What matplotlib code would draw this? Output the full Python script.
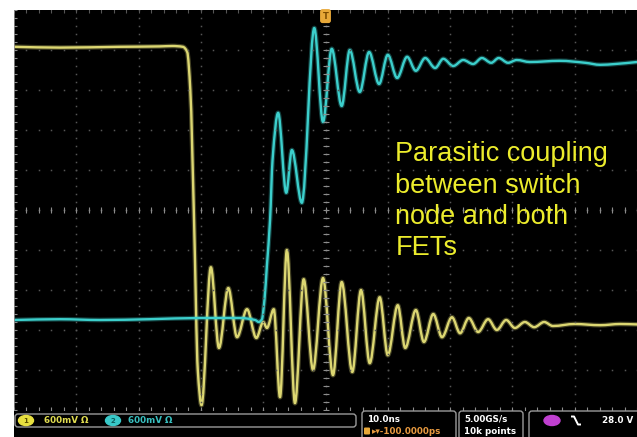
"""
Switch-node ringing capture: gate drive (ch1) and switch node (ch2),
10 ns/div, 600 mV/div, drawn like the scope screen.
"""
import numpy as np
import matplotlib
matplotlib.use("Agg")
import matplotlib.pyplot as plt
from matplotlib.path import Path
from matplotlib.patches import PathPatch, FancyBboxPatch, Ellipse

# ch1 (yellow) -- time in ns from trigger, level in screen divisions
CH1_T = [-50.0, -42.6, -33.0, -26.6, -24.6, -22.9, -22.2, -21.7, -21.1, -20.5,
         -19.9, -18.4, -17.1, -15.6, -14.2, -12.6, -11.1, -10.0, -9.4, -8.3,
         -7.3, -6.2, -4.9, -3.5, -2.0, -0.4, 1.2, 2.6, 4.3, 5.7,
         7.1, 8.7, 10.0, 11.6, 12.8, 14.5, 15.8, 17.3, 18.7, 20.3,
         21.6, 23.0, 24.5, 26.1, 27.5, 29.0, 30.4, 32.0, 33.5, 35.1,
         36.5, 40.0, 44.1, 47.3, 50.0]
CH1_V = [4.08, 4.06, 4.08, 4.09, 4.1, 4.08, 3.95, 3.0, -0.25, -4.0,
         -4.88, -1.43, -3.45, -1.95, -3.18, -2.48, -3.2, -2.8, -2.95, -2.48,
         -4.68, -1.0, -4.83, -1.73, -4.0, -1.7, -4.13, -1.8, -4.05, -2.0,
         -3.83, -2.18, -3.63, -2.38, -3.45, -2.5, -3.3, -2.6, -3.18, -2.68,
         -3.08, -2.7, -3.05, -2.73, -3.0, -2.75, -2.95, -2.8, -2.93, -2.8,
         -2.9, -2.85, -2.88, -2.85, -2.86]

# ch2 (cyan)
CH2_T = [-50.0, -42.6, -36.2, -28.2, -20.1, -13.7, -11.3, -10.7, -10.2, -9.8,
         -9.4, -8.9, -8.5, -7.6, -6.3, -5.4, -3.8, -1.8, -0.4, 1.0,
         2.6, 3.9, 5.5, 7.0, 8.6, 10.0, 11.5, 13.1, 14.5, 16.0,
         17.6, 18.9, 20.5, 22.1, 23.7, 25.1, 26.6, 27.8, 29.3, 30.7,
         32.8, 37.6, 41.7, 44.1, 46.5, 50.0]
CH2_V = [-2.75, -2.73, -2.75, -2.73, -2.7, -2.7, -2.75, -2.8, -2.73, -2.25,
         -1.38, -0.25, 1.25, 2.43, 0.43, 1.5, 0.18, 4.55, 2.2, 4.03,
         2.6, 4.0, 2.95, 3.95, 3.15, 3.88, 3.3, 3.83, 3.48, 3.8,
         3.55, 3.78, 3.6, 3.75, 3.65, 3.8, 3.68, 3.8, 3.68, 3.75,
         3.7, 3.73, 3.68, 3.63, 3.65, 3.7]

NOTE = "Parasitic coupling\nbetween switch\nnode and both\nFETs"

CH1_COLOR = "#dcd772"
CH2_COLOR = "#3ccfcc"
NOTE_COLOR = "#ecec2c"
GRID_COLOR = "#565656"
AXIS_COLOR = "#8c8c8c"

W, H = 637, 437


def trace_path(t, v):
    """Shape-preserving cubic through the samples, flat at peaks/troughs."""
    t = np.asarray(t, float)
    v = np.asarray(v, float)
    h = np.diff(t)
    d = np.diff(v) / h
    m = np.zeros_like(v)
    m[0], m[-1] = d[0], d[-1]
    for k in range(1, len(v) - 1):
        if d[k - 1] * d[k] > 0:
            w1 = 2 * h[k] + h[k - 1]
            w2 = h[k] + 2 * h[k - 1]
            m[k] = (w1 + w2) / (w1 / d[k - 1] + w2 / d[k])
    verts = [(t[0], v[0])]
    codes = [Path.MOVETO]
    for k in range(len(h)):
        verts += [(t[k] + h[k] / 3, v[k] + m[k] * h[k] / 3),
                  (t[k + 1] - h[k] / 3, v[k + 1] - m[k + 1] * h[k] / 3),
                  (t[k + 1], v[k + 1])]
        codes += [Path.CURVE4] * 3
    return Path(verts, codes)


def draw_trace(ax, t, v, color):
    path = trace_path(t, v)
    ax.add_patch(PathPatch(path, fill=False, edgecolor=color, lw=3.4,
                           alpha=0.3, capstyle="round", joinstyle="round"))
    ax.add_patch(PathPatch(path, fill=False, edgecolor=color, lw=1.7,
                           capstyle="round", joinstyle="round"))


fig = plt.figure(figsize=(W / 100, H / 100), dpi=100, facecolor="white")

# black screen behind graticule and status bar
back = fig.add_axes([14 / W, 0, 623 / W, 427 / H])
back.set_facecolor("black")
back.set_axis_off()
back.add_patch(plt.Rectangle((0, 0), 1, 1, transform=back.transAxes,
                             color="black"))

ax = fig.add_axes([14 / W, 27 / H, 623 / W, 400 / H])
ax.set_facecolor("black")
ax.set_xlim(-50, 50)
ax.set_ylim(-5, 5)
ax.set_axis_off()

# graticule: dotted division lines, ticked centre cross and edges
for x in np.arange(-40, 50, 10):
    ys = np.arange(-5, 5.01, 0.2)
    ax.plot(np.full_like(ys, x), ys, ls="none", marker="s", ms=1.1,
            color=AXIS_COLOR if x == 0 else GRID_COLOR, mec="none")
for y in np.arange(-4, 5, 1):
    xs = np.arange(-50, 50.01, 2.0)
    ax.plot(xs, np.full_like(xs, y), ls="none", marker="s", ms=1.1,
            color=AXIS_COLOR if y == 0 else GRID_COLOR, mec="none")
ys = np.arange(-5, 5.01, 0.2)
xs = np.arange(-50, 50.01, 2.0)
ax.plot(np.zeros_like(ys), ys, ls="none", marker="_", ms=5, mew=0.8,
        color=AXIS_COLOR)
ax.plot(xs, np.zeros_like(xs), ls="none", marker="|", ms=5, mew=0.8,
        color=AXIS_COLOR)
ax.plot(np.full_like(ys, -50), ys, ls="none", marker="_", ms=5, mew=0.8,
        color=AXIS_COLOR)
ax.plot(xs, np.full_like(xs, -5), ls="none", marker="|", ms=5, mew=0.8,
        color=AXIS_COLOR)
ax.plot(xs, np.full_like(xs, 5), ls="none", marker="|", ms=5, mew=0.8,
        color=GRID_COLOR)
ax.axvline(-50, color=AXIS_COLOR, lw=1.2)

draw_trace(ax, CH1_T, CH1_V, CH1_COLOR)
draw_trace(ax, CH2_T, CH2_V, CH2_COLOR)

# trigger position marker
ax.text(0, 4.96, "T", ha="center", va="top", fontsize=6, fontweight="bold",
        color="#7a4a00",
        bbox=dict(boxstyle="round,pad=0.3", fc="#e8a838", ec="none"))

ax.text(11.2, 1.72, NOTE, ha="left", va="top", fontsize=19.5,
        family="Liberation Sans", color=NOTE_COLOR, linespacing=1.27)

# status bar along the bottom of the screen (pixel units)
bar = fig.add_axes([14 / W, 0, 623 / W, 27 / H])
bar.set_xlim(14, 637)
bar.set_ylim(437, 410)
bar.set_axis_off()
bar.set_facecolor("black")

box_kw = dict(boxstyle="round,pad=0,rounding_size=3", fc="none",
              ec="#9a9a9a", lw=1.0)
bar.add_patch(FancyBboxPatch((15, 414), 341, 13, **box_kw))
bar.add_patch(FancyBboxPatch((362, 411), 94, 30, **box_kw))
bar.add_patch(FancyBboxPatch((459, 411), 64, 30, **box_kw))
bar.add_patch(FancyBboxPatch((529, 411), 112, 30, **box_kw))

txt = dict(fontsize=6.3, fontweight="bold", va="center", family="DejaVu Sans")
bar.add_patch(Ellipse((26, 420.5), 15, 10, color="#e8e040"))
bar.text(26, 420.5, "1", ha="center", color="#5a5000", fontsize=5,
         fontweight="bold", va="center")
bar.text(44, 420.5, "600mV Ω", color="#e0dc50", ha="left", **txt)
bar.add_patch(Ellipse((113, 420.5), 15, 10, color="#38c8c8"))
bar.text(113, 420.5, "2", ha="center", color="#0c5a5a", fontsize=5,
         fontweight="bold", va="center")
bar.text(128, 420.5, "600mV Ω", color="#38c0c0", ha="left", **txt)

bar.text(367, 419, "10.0ns", color="white", ha="left", **txt)
bar.add_patch(FancyBboxPatch((364, 427.5), 6, 7,
                             boxstyle="round,pad=0,rounding_size=1",
                             fc="#e8a838", ec="none"))
bar.text(372, 431, "▸▾-100.0000ps", color="#e89a40", ha="left", **txt)
bar.text(464, 419, "5.00GS/s", color="white", ha="left", **txt)
bar.text(464, 431, "10k points", color="white", ha="left", **txt)
bar.add_patch(Ellipse((552, 420.5), 16, 10, color="#c040d0"))
# falling-edge trigger slope symbol
bar.plot([571, 574, 578, 581], [416.5, 416.5, 424.5, 424.5], color="white",
         lw=1.4, solid_capstyle="butt")
bar.text(633, 420.5, "28.0 V", color="white", ha="right", **txt)

fig.savefig("out.png", dpi=100, facecolor="white")
